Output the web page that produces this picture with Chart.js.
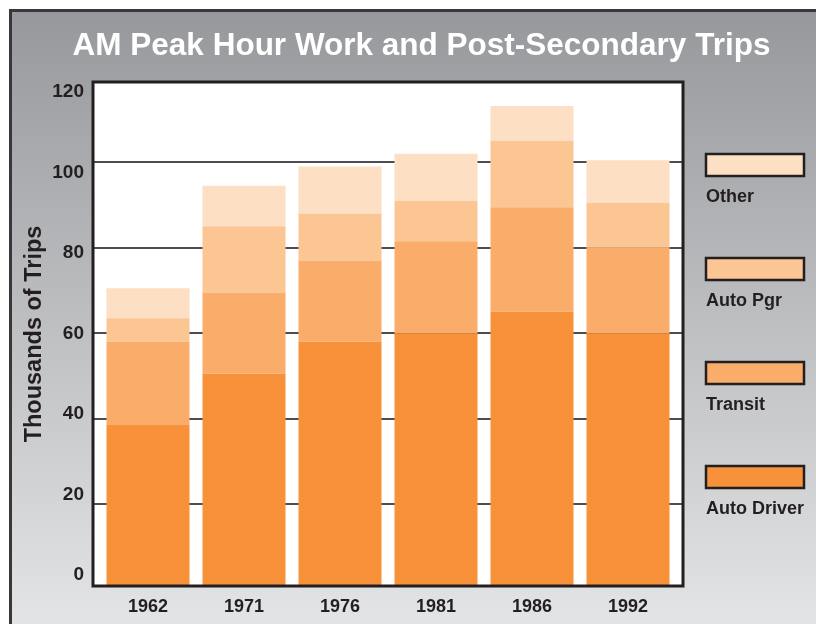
<!DOCTYPE html>
<html>
<head>
<meta charset="utf-8">
<script src="https://cdn.jsdelivr.net/npm/chart.js@4/dist/chart.umd.min.js"></script>
<style>
  html, body { margin: 0; padding: 0; background: #fff; }
  #wrap { width: 816px; height: 624px; position: relative; }
</style>
</head>
<body>
<div id="wrap"><canvas id="tripsChart" width="816" height="624"></canvas></div>
<script>
// data (thousands of trips)
const years = ['1962', '1971', '1976', '1981', '1986', '1992'];
const autoDriver = [38.5, 50.5, 58, 60, 65, 60];
const transit = [19.5, 19, 19, 21.5, 24.5, 20];
const autoPgr = [5.5, 15.5, 11, 9.5, 15.5, 10.5];
const other = [7, 9.5, 11, 11, 8.2, 10];
const yTicks = [0, 20, 40, 60, 80, 100, 120];
const gridValues = [20, 40, 60, 80, 100];

const titleText = 'AM Peak Hour Work and Post-Secondary Trips';
const ink = '#231f20';
const face = '"Liberation Sans", Arial, sans-serif';

// the plot box is a bit wider than the category range
const boxPad = 7;

// grey panel, white plot box, grid, frame, title
const panelPlugin = {
  id: 'panel',
  beforeDraw(chart) {
    const c = chart.ctx, a = chart.chartArea;
    c.save();
    c.fillStyle = '#fff';
    c.fillRect(0, 0, chart.width, chart.height);
    const g = c.createLinearGradient(0, 10, 0, chart.height);
    g.addColorStop(0, '#97989b');
    g.addColorStop(1, '#e3e4e6');
    c.fillStyle = g;
    c.fillRect(10, 10, chart.width, chart.height);
    c.strokeStyle = '#38383a';
    c.lineWidth = 3;
    c.beginPath();
    c.moveTo(10.5, chart.height + 5);
    c.lineTo(10.5, 10.5);
    c.lineTo(chart.width + 5, 10.5);
    c.stroke();
    c.fillStyle = '#fff';
    c.fillRect(a.left - boxPad, a.top, a.right - a.left + 2 * boxPad, a.bottom - a.top);
    c.font = 'bold 31.5px ' + face;
    c.fillStyle = '#fff';
    c.textAlign = 'center';
    c.textBaseline = 'middle';
    c.fillText(titleText, 421.5, 46);
    c.restore();
  },
  beforeDatasetsDraw(chart) {
    const c = chart.ctx, a = chart.chartArea, y = chart.scales.y;
    c.save();
    c.strokeStyle = '#4d4d4f';
    c.lineWidth = 2;
    gridValues.forEach(v => {
      const py = Math.round(y.getPixelForValue(v));
      c.beginPath();
      c.moveTo(a.left - boxPad, py);
      c.lineTo(a.right + boxPad, py);
      c.stroke();
    });
    c.restore();
  },
  afterDatasetsDraw(chart) {
    const c = chart.ctx, a = chart.chartArea;
    c.save();
    c.strokeStyle = ink;
    c.lineWidth = 3;
    c.strokeRect(a.left - boxPad, a.top, a.right - a.left + 2 * boxPad, a.bottom - a.top);
    c.restore();
  }
};

// legend on the right: box with label under it, top to bottom
const sideLegend = {
  id: 'sideLegend',
  afterDraw(chart) {
    const c = chart.ctx;
    const sets = chart.data.datasets.slice().reverse();
    c.save();
    c.font = 'bold 18px ' + face;
    c.textBaseline = 'alphabetic';
    sets.forEach((ds, i) => {
      const y = 154 + i * 104;
      c.fillStyle = ds.backgroundColor;
      c.fillRect(706, y, 98, 22);
      c.strokeStyle = ink;
      c.lineWidth = 2.5;
      c.strokeRect(706, y, 98, 22);
      c.fillStyle = ink;
      c.fillText(ds.label, 706, y + 48);
    });
    c.restore();
  }
};

const ctx = document.querySelector('#tripsChart').getContext('2d');
const chart = new Chart(ctx, {
  type: 'bar',
  data: {
    labels: years,
    datasets: [
      { label: 'Auto Driver', data: autoDriver, backgroundColor: '#f7923a' },
      { label: 'Transit', data: transit, backgroundColor: '#faad6a' },
      { label: 'Auto Pgr', data: autoPgr, backgroundColor: '#fcc594' },
      { label: 'Other', data: other, backgroundColor: '#fddfc3' },
    ],
  },
  options: {
    responsive: false,
    animation: false,
    devicePixelRatio: 1,
    layout: { padding: { top: 82, left: 10, right: 140, bottom: 0 } },
    datasets: { bar: { categoryPercentage: 1, barPercentage: 0.865, borderWidth: 0 } },
    plugins: {
      legend: { display: false },
      tooltip: { enabled: false },
      title: { display: false },
    },
    scales: {
      x: {
        stacked: true,
        grid: { display: false, drawTicks: false },
        border: { display: false },
        ticks: {
          color: ink,
          padding: 10,
          font: { family: face, size: 18, weight: 'bold' },
        },
        afterFit(s) { s.height = 38; },
      },
      // value scale for the bars and grid
      y: {
        stacked: true,
        display: false,
        min: 0.8,
        max: 118.8,
      },
      // label scale as printed on the original
      yl: {
        position: 'left',
        min: -2.7,
        max: 122.5,
        afterBuildTicks(s) { s.ticks = yTicks.map(v => ({ value: v })); },
        grid: { display: false, drawTicks: false },
        border: { display: false },
        ticks: {
          color: ink,
          padding: 16,
          font: { family: face, size: 19, weight: 'bold' },
        },
        title: {
          display: true,
          text: 'Thousands of Trips',
          color: ink,
          padding: { top: 10, bottom: 0 },
          font: { family: face, size: 23.5, weight: 'bold' },
        },
        afterFit(s) { s.width = 90; },
      },
    },
  },
  plugins: [panelPlugin, sideLegend],
});
</script>
</body>
</html>
